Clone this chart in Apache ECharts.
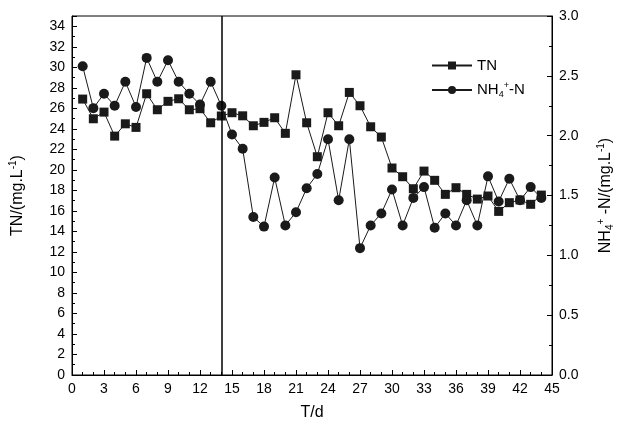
<!DOCTYPE html>
<html>
<head>
<meta charset="utf-8">
<script src="https://cdn.jsdelivr.net/npm/echarts@6/dist/echarts.min.js"></script>
<style>html,body{margin:0;padding:0;background:#fff}#c{width:630px;height:429px}</style>
</head>
<body>
<div id="c"></div>
<script>
const days = [1,2,3,4,5,6,7,8,9,10,11,12,13,14,15,16,17,18,19,20,21,22,23,24,25,26,27,28,29,30,31,32,33,34,35,36,37,38,39,40,41,42,43,44];
const tn = [26.9,24.98,25.63,23.29,24.49,24.14,27.42,25.86,26.68,26.93,25.86,25.96,24.59,25.25,25.57,25.27,24.30,24.63,25.08,23.56,29.27,24.59,21.28,25.57,24.30,27.55,26.25,24.2,23.2,20.18,19.33,18.16,19.88,18.98,17.61,18.26,17.61,17.15,17.45,15.95,16.8,17.06,16.64,17.54];
const nh4 = [2.58,2.23,2.35,2.25,2.45,2.24,2.65,2.45,2.63,2.45,2.35,2.26,2.45,2.25,2.01,1.89,1.32,1.24,1.65,1.25,1.36,1.56,1.68,1.97,1.46,1.97,1.06,1.25,1.35,1.55,1.25,1.48,1.57,1.23,1.35,1.25,1.46,1.25,1.66,1.45,1.64,1.46,1.57,1.48];
const markerDay = 14;

const FONT = 'Liberation Sans, Arial, sans-serif';
const chart = echarts.init(document.getElementById('c'));
function rich(size) {
  return {
    n: {fontFamily: FONT, fontSize: size, color: '#000'},
    sup: {fontFamily: FONT, fontSize: Math.round(size * 0.62), color: '#000', verticalAlign: 'top', padding: [0,0,9,0]},
    sub: {fontFamily: FONT, fontSize: Math.round(size * 0.62), color: '#000', verticalAlign: 'bottom', padding: [7,0,0,0]}
  };
}
const axisLabelStyle = {fontFamily: FONT, fontSize: 14, color: '#000'};
chart.setOption({
  animation: false,
  grid: {left: 72, right: 78, top: 16, bottom: 54, show: true, borderColor: '#000', borderWidth: 1},
  legend: {
    orient: 'vertical', left: 426, top: 53, itemGap: 8,
    itemWidth: 40, itemHeight: 10,
    data: ['TN', 'NH4+-N'],
    formatter: function (name) { return name === 'TN' ? '{n|TN}' : '{n|NH}{sub|4}{sup|+}{n|-N}'; },
    textStyle: {rich: rich(15), fontFamily: FONT, fontSize: 15, color: '#000'}
  },
  xAxis: {
    type: 'value', min: 0, max: 45, interval: 3,
    name: 'T/d', nameLocation: 'middle', nameGap: 30,
    nameTextStyle: {fontFamily: FONT, fontSize: 16, color: '#000'},
    axisLine: {lineStyle: {color: '#000', width: 1}},
    axisTick: {inside: true, length: 5, lineStyle: {color: '#000'}},
    minorTick: {show: true, splitNumber: 3, length: 3, lineStyle: {color: '#000'}},
    splitLine: {show: false},
    axisLabel: Object.assign({margin: 7}, axisLabelStyle)
  },
  yAxis: [{
    type: 'value', min: 0, max: 35, interval: 2,
    name: '{n|TN/(mg.L}{sup|-1}{n|)}', nameLocation: 'middle', nameGap: 45, nameRotate: 90,
    nameTextStyle: {rich: rich(16), fontFamily: FONT, fontSize: 16, color: '#000'},
    axisLine: {show: true, lineStyle: {color: '#000', width: 1}},
    axisTick: {inside: true, length: 5, lineStyle: {color: '#000'}},
    minorTick: {show: true, splitNumber: 2, length: 3, lineStyle: {color: '#000'}},
    splitLine: {show: false},
    axisLabel: Object.assign({margin: 7, showMaxLabel: false}, axisLabelStyle)
  }, {
    type: 'value', min: 0, max: 3, interval: 0.5, position: 'right',
    name: '{n|NH}{sub|4}{sup|+}{n| -N/(mg.L}{sup|-1}{n|)}', nameLocation: 'middle', nameGap: 44, nameRotate: 90,
    nameTextStyle: {rich: rich(16), fontFamily: FONT, fontSize: 16, color: '#000'},
    axisLine: {show: true, lineStyle: {color: '#000', width: 1}},
    axisTick: {inside: true, length: 5, lineStyle: {color: '#000'}},
    minorTick: {show: true, splitNumber: 2, length: 3, lineStyle: {color: '#000'}},
    splitLine: {show: false},
    axisLabel: Object.assign({margin: 7, formatter: v => v.toFixed(1)}, axisLabelStyle)
  }],
  series: [{
    name: 'TN', type: 'line', yAxisIndex: 0,
    data: days.map((d, i) => [d, tn[i]]),
    symbol: 'rect', symbolSize: 9,
    itemStyle: {color: '#1a1a1a'},
    lineStyle: {color: '#1a1a1a', width: 1},
    markLine: {
      silent: true, symbol: 'none', label: {show: false},
      lineStyle: {color: '#000', width: 1.5, type: 'solid'},
      data: [{xAxis: markerDay}]
    }
  }, {
    name: 'NH4+-N', type: 'line', yAxisIndex: 1,
    data: days.map((d, i) => [d, nh4[i]]),
    symbol: 'circle', symbolSize: 10,
    itemStyle: {color: '#1a1a1a'},
    lineStyle: {color: '#1a1a1a', width: 1}
  }]
});
</script>
</body>
</html>
